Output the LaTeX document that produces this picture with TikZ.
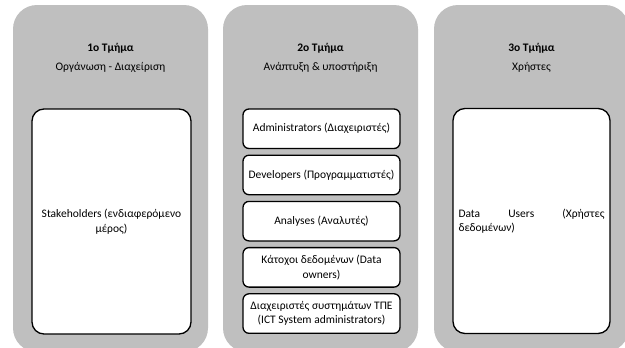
\documentclass[tikz,border=0pt]{standalone}
\usepackage{fontspec}
\setmainfont{Carlito}
\definecolor{panelgray}{RGB}{191,191,191}
\begin{document}
\begin{tikzpicture}[x=1pt,y=-1pt,
  panel/.style={fill=panelgray,draw=none,rounded corners=24pt,minimum width=195pt,minimum height=347pt,inner sep=0pt},
  bigbox/.style={fill=white,draw=black,line width=1.3pt,rounded corners=12pt,minimum height=225pt,inner sep=0pt,align=center},
  smallbox/.style={fill=white,draw=black,line width=1.3pt,rounded corners=6pt,minimum width=157pt,minimum height=39.5pt,inner sep=0pt,align=center},
  title/.style={font=\fontsize{11.5}{14}\selectfont\bfseries},
  subtitle/.style={font=\fontsize{11.5}{14}\selectfont},
  every node/.append style={font=\fontsize{11.5}{14.5}\selectfont}
]
\useasboundingbox (0,0) rectangle (625,348);
\fill[white] (0,0) rectangle (625,348);
\begin{scope}
\clip (0,0) rectangle (625,348);
\node[panel] (p1) at (110.5,178.5) {};
\node[panel] (p2) at (320.5,178.5) {};
\node[panel] (p3) at (531.5,178.5) {};
\end{scope}

\node[title] (t1) at (110.5,48) {1ο Τμήμα};
\node[subtitle] (s1) at (110.5,67) {Οργάνωση - Διαχείριση};
\node[title] (t2) at (320.5,48) {2ο Τμήμα};
\node[subtitle] (s2) at (320.5,67) {Ανάπτυξη \& υποστήριξη};
\node[title] (t3) at (531.5,48.5) {3ο Τμήμα};
\node[subtitle] (s3) at (531.5,67) {Χρήστες};

\node[bigbox,minimum width=159pt] (b1) at (111.5,221.5) {Stakeholders (ενδιαφερόμενο\\μέρος)};
\node[bigbox,minimum width=157pt,align=left] (b3) at (531.5,221) {\makebox[146pt][s]{Data Users (Χρήστες}\\δεδομένων)};

\node[smallbox] (a1) at (321.5,128.75) {Administrators (Διαχειριστές)};
\node[smallbox] (a2) at (321.5,174.95) {Developers (Προγραμματιστές)};
\node[smallbox] (a3) at (321.5,221.15) {Analyses (Αναλυτές)};
\node[smallbox] (a4) at (321.5,267.35) {Κάτοχοι δεδομένων (Data\\owners)};
\node[smallbox] (a5) at (321.5,313.55) {Διαχειριστές συστημάτων ΤΠΕ\\(ICT System administrators)};
\end{tikzpicture}
\end{document}
